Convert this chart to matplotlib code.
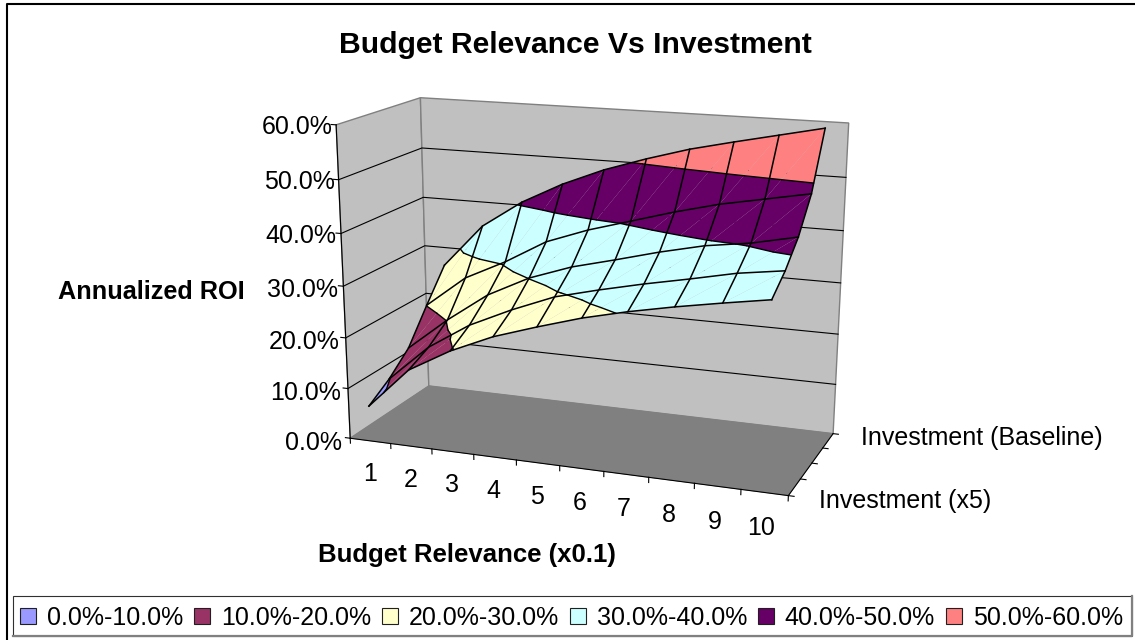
import numpy as np
import matplotlib.pyplot as plt
from matplotlib.collections import PolyCollection
from matplotlib.patches import Patch, Polygon, Rectangle

plt.rcParams['font.family'] = ['Liberation Sans', 'DejaVu Sans']

W, H = 1135, 640

budget_relevance = ['1', '2', '3', '4', '5', '6', '7', '8', '9', '10']

# annualized ROI in %, one list per investment level, front (x5) to back (baseline)
roi_s1 = [7.0, 15.1, 19.7, 23.3, 26.0, 28.5, 30.5, 32.2, 33.7, 35.1]
roi_s2 = [9.8, 17.1, 22.3, 26.1, 29.4, 31.5, 33.4, 35.1, 36.9, 38.1]
roi_s3 = [13.6, 20.2, 26.0, 30.1, 33.0, 35.1, 37.3, 39.2, 40.4, 42.2]
roi_s4 = [20.1, 26.5, 30.5, 35.2, 38.2, 40.6, 43.0, 45.1, 46.7, 48.3]
roi_s5 = [26.3, 35.1, 40.6, 44.8, 48.2, 50.9, 53.3, 55.2, 57.0, 58.8]

z_ticks = [0, 10, 20, 30, 40, 50, 60]
z_labels = ['0.0%', '10.0%', '20.0%', '30.0%', '40.0%', '50.0%', '60.0%']
depth_labels = {0: 'Investment (x5)', 4: 'Investment (Baseline)'}

bands = [(0, 10), (10, 20), (20, 30), (30, 40), (40, 50), (50, 60)]
band_labels = ['0.0%-10.0%', '10.0%-20.0%', '20.0%-30.0%', '30.0%-40.0%', '40.0%-50.0%', '50.0%-60.0%']
band_colors = ['#9999FF', '#993366', '#FFFFCC', '#CCFFFF', '#660066', '#FF8080']

# camera fitted to the corners of the Excel box: (x, series, roi, 1) -> pixels
camera = np.array([[37.2105, 29.6212, -0.560565, 350.212],
                   [1.58404, -4.10939, -5.34478, 438.245],
                   [-0.00837785, 0.0232542, -0.000969546, 1.0]])

roi = np.array([roi_s1, roi_s2, roi_s3, roi_s4, roi_s5])
xs = np.arange(len(budget_relevance)) + 0.5
ys = np.arange(len(roi))
x_max, y_max, z_max = len(xs), len(ys) - 1, z_ticks[-1]


def project(x, y, z):
    x, y, z = np.broadcast_arrays(x, y, z)
    q = camera @ np.array([x, y, z, np.ones_like(x)], dtype=float)
    return q[0] / q[2], q[1] / q[2]


def line3d(x, y, z, **kw):
    u, v = project(x, y, z)
    ax.plot(u, v, **kw)


def face3d(points, **kw):
    u, v = project(*np.array(points, dtype=float).T)
    ax.add_patch(Polygon(np.column_stack([u, v]), **kw))


def clip(poly, level, keep_above):
    out = []
    for a, b in zip(poly, poly[1:] + poly[:1]):
        a_in = (a[2] >= level) == keep_above
        b_in = (b[2] >= level) == keep_above
        if a_in:
            out.append(a)
        if a_in != b_in:
            t = (level - a[2]) / (b[2] - a[2])
            out.append(tuple(np.array(a) + t * (np.array(b) - np.array(a))))
    return out


def crossing(tri, level):
    pts = []
    for a, b in zip(tri, tri[1:] + tri[:1]):
        if (a[2] - level) * (b[2] - level) < 0:
            t = (level - a[2]) / (b[2] - a[2])
            pts.append(np.array(a) + t * (np.array(b) - np.array(a)))
    return pts


fig = plt.figure(figsize=(W / 100, H / 100), dpi=100)
ax = fig.add_axes([0, 0, 1, 1])
ax.set_xlim(0, W)
ax.set_ylim(H, 0)
ax.axis('off')

# walls and floor
wall = dict(facecolor='#C0C0C0', edgecolor='#808080', lw=1.0, zorder=1)
face3d([(0, 0, 0), (0, y_max, 0), (0, y_max, z_max), (0, 0, z_max)], **wall)
face3d([(0, y_max, 0), (x_max, y_max, 0), (x_max, y_max, z_max), (0, y_max, z_max)], **wall)
face3d([(0, 0, 0), (x_max, 0, 0), (x_max, y_max, 0), (0, y_max, 0)],
       facecolor='#808080', edgecolor='#808080', lw=0.5, zorder=1.5)

grid = dict(color='black', lw=0.8, zorder=2)
for z in z_ticks[1:-1]:
    line3d([0, 0, x_max], [0, y_max, y_max], z, **grid)

# axis lines and ticks
line3d(0, 0, [0, z_max], **grid)
line3d([0, x_max, x_max], [0, 0, y_max], 0, **grid)
for z, label in zip(z_ticks, z_labels):
    line3d([-0.12, 0], 0, z, **grid)
    u, v = project(-0.2 + z * 0.002, 0, z - 0.4 - (z_max - z) * 0.012)
    ax.text(u, v, label, ha='right', va='center', fontsize=18)
for i in range(x_max + 1):
    line3d(i, 0, [0, -1], **grid)
for i, label in enumerate(budget_relevance):
    u, v = project(i + 0.46, 0, -6.8)
    ax.text(u, v, label, ha='center', va='center', fontsize=18)
for s in range(y_max + 1):
    line3d([x_max, x_max + 0.12], s, 0, **grid)
    if s in depth_labels:
        u, v = project(x_max + 0.63, s, -0.3)
        ax.text(u, v, depth_labels[s], ha='left', va='center', fontsize=18)

# surface: each cell is two triangles, each cut along the band limits
faces = []
face_colors = []
contours = []
for s in range(len(ys) - 1):
    for i in range(len(xs) - 1):
        p00 = (xs[i], ys[s], roi[s, i])
        p10 = (xs[i + 1], ys[s], roi[s, i + 1])
        p01 = (xs[i], ys[s + 1], roi[s + 1, i])
        p11 = (xs[i + 1], ys[s + 1], roi[s + 1, i + 1])
        for tri in ([p00, p10, p11], [p00, p11, p01]):
            for (lo, hi), color in zip(bands, band_colors):
                poly = clip(tri, lo, True)
                if poly:
                    poly = clip(poly, hi, False)
                if len(poly) >= 3:
                    u, v = project(*np.array(poly).T)
                    faces.append(np.column_stack([u, v]))
                    face_colors.append(color)
            for lo, hi in bands[1:]:
                pts = crossing(tri, lo)
                if len(pts) == 2:
                    contours.append(pts)

ax.add_collection(PolyCollection(faces, facecolors=face_colors, edgecolors='none', linewidths=0, zorder=3))

for a, b in contours:
    line3d([a[0], b[0]], [a[1], b[1]], [a[2], b[2]], color='black', lw=1.0, zorder=4, solid_capstyle='round')
for s in range(len(ys)):
    line3d(xs, ys[s], roi[s], color='black', lw=1.1, zorder=5)
for i in range(len(xs)):
    line3d(xs[i], ys, roi[:, i], color='black', lw=1.1, zorder=5)

# titles
ax.text(575, 45, 'Budget Relevance Vs Investment', ha='center', va='center', fontsize=21.7, fontweight='bold')
ax.text(151, 292, 'Annualized ROI', ha='center', va='center', fontsize=18.2, fontweight='bold')
ax.text(467, 555, 'Budget Relevance (x0.1)', ha='center', va='center', fontsize=18.5, fontweight='bold')

# chart frame runs off the right and bottom of the picture
ax.plot([7, 7, W], [H, 4, 4], color='black', lw=1.5, clip_on=False)

# legend box with its grey shadow edge
ax.add_patch(Rectangle((13, 596), 1119, 40, facecolor='white', edgecolor='#303030', lw=0.8, zorder=6))
ax.plot([13, 1132, 1132], [636, 636, 596], color='#808080', lw=1.6, zorder=6)
handles = [Patch(facecolor=c, edgecolor='#202020', lw=0.8) for c in band_colors]
leg = ax.legend(handles, band_labels, loc='center', bbox_to_anchor=(571.5, 618), bbox_transform=ax.transData, ncol=6,
                frameon=False, fontsize=18, handlelength=0.64, handleheight=0.64, handletextpad=0.42,
                columnspacing=0.45, borderpad=0, borderaxespad=0)
leg.set_zorder(7)

fig.savefig("out.png", dpi=100)
